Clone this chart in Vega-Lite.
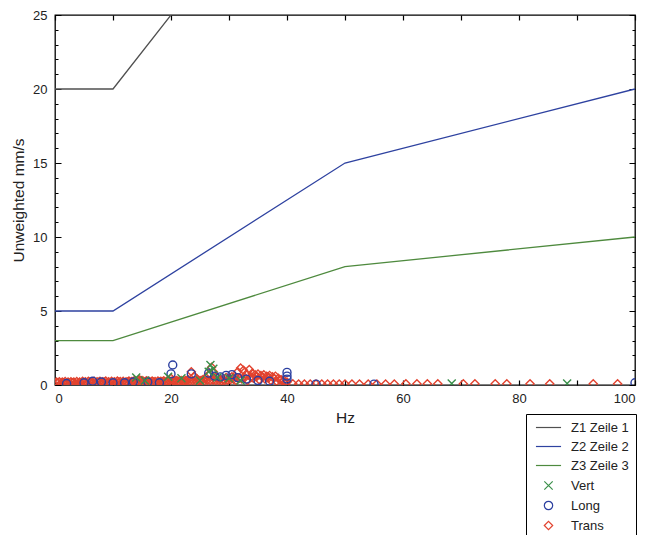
{
  "$schema": "https://vega.github.io/schema/vega-lite/v6.json",
  "autosize": {"type": "none"},
  "width": 580,
  "height": 370,
  "padding": {"left": 55, "top": 15, "right": 22, "bottom": 150},
  "background": "white",
  "config": {
    "view": {"stroke": "black", "strokeWidth": 1.3},
    "font": "Liberation Sans",
    "axis": {"zindex": 1, "ticks": false, "domain": false, "grid": true, "gridColor": "black", "gridOpacity": 1, "gridWidth": 1.2, "labelColor": "#222", "titleColor": "#222", "labelFont": "Liberation Sans", "titleFont": "Liberation Sans", "labelFontSize": 13, "titleFontSize": 15.5, "titleFontWeight": "normal", "labelOverlap": false}
  },
  "datasets": {
    "lines": [
      {"f": 0, "v": 20, "s": "Z1 Zeile 1"}, {"f": 10, "v": 20, "s": "Z1 Zeile 1"}, {"f": 50, "v": 40, "s": "Z1 Zeile 1"}, {"f": 100, "v": 50, "s": "Z1 Zeile 1"},
      {"f": 0, "v": 5, "s": "Z2 Zeile 2"}, {"f": 10, "v": 5, "s": "Z2 Zeile 2"}, {"f": 50, "v": 15, "s": "Z2 Zeile 2"}, {"f": 100, "v": 20, "s": "Z2 Zeile 2"},
      {"f": 0, "v": 3, "s": "Z3 Zeile 3"}, {"f": 10, "v": 3, "s": "Z3 Zeile 3"}, {"f": 50, "v": 8, "s": "Z3 Zeile 3"}, {"f": 100, "v": 10, "s": "Z3 Zeile 3"}
    ],
    "pts": [
      {"f": 0.5, "v": 0.15, "s": "Trans"}, {"f": 1, "v": 0.1, "s": "Trans"}, {"f": 1.5, "v": 0.15, "s": "Trans"}, {"f": 2, "v": 0.12, "s": "Trans"}, {"f": 2.5, "v": 0.1, "s": "Trans"}, {"f": 3, "v": 0.15, "s": "Trans"}, {"f": 3.5, "v": 0.12, "s": "Trans"}, {"f": 4, "v": 0.1, "s": "Trans"}, {"f": 4.5, "v": 0.14, "s": "Trans"}, {"f": 5, "v": 0.18, "s": "Trans"}, {"f": 5.5, "v": 0.12, "s": "Trans"}, {"f": 6, "v": 0.2, "s": "Trans"}, {"f": 6.5, "v": 0.15, "s": "Trans"}, {"f": 7, "v": 0.12, "s": "Trans"}, {"f": 7.5, "v": 0.18, "s": "Trans"}, {"f": 8, "v": 0.14, "s": "Trans"}, {"f": 8.5, "v": 0.2, "s": "Trans"}, {"f": 9, "v": 0.15, "s": "Trans"}, {"f": 9.5, "v": 0.12, "s": "Trans"}, {"f": 10, "v": 0.18, "s": "Trans"}, {"f": 10.5, "v": 0.15, "s": "Trans"}, {"f": 11, "v": 0.2, "s": "Trans"}, {"f": 11.5, "v": 0.15, "s": "Trans"}, {"f": 12, "v": 0.12, "s": "Trans"}, {"f": 12.5, "v": 0.2, "s": "Trans"}, {"f": 13, "v": 0.18, "s": "Trans"}, {"f": 13.5, "v": 0.25, "s": "Trans"}, {"f": 14, "v": 0.2, "s": "Trans"}, {"f": 14.5, "v": 0.35, "s": "Trans"}, {"f": 15, "v": 0.3, "s": "Trans"}, {"f": 15.5, "v": 0.2, "s": "Trans"}, {"f": 16, "v": 0.25, "s": "Trans"}, {"f": 16.5, "v": 0.18, "s": "Trans"}, {"f": 17, "v": 0.2, "s": "Trans"}, {"f": 17.5, "v": 0.15, "s": "Trans"}, {"f": 18, "v": 0.2, "s": "Trans"}, {"f": 18.5, "v": 0.22, "s": "Trans"}, {"f": 19, "v": 0.18, "s": "Trans"}, {"f": 19.5, "v": 0.3, "s": "Trans"}, {"f": 20, "v": 0.45, "s": "Trans"}, {"f": 20.5, "v": 0.25, "s": "Trans"}, {"f": 21, "v": 0.3, "s": "Trans"}, {"f": 21.5, "v": 0.2, "s": "Trans"}, {"f": 22, "v": 0.25, "s": "Trans"}, {"f": 22.5, "v": 0.3, "s": "Trans"}, {"f": 23, "v": 0.35, "s": "Trans"}, {"f": 23.5, "v": 0.9, "s": "Trans"}, {"f": 24, "v": 0.6, "s": "Trans"}, {"f": 24.5, "v": 0.4, "s": "Trans"}, {"f": 25, "v": 0.3, "s": "Trans"}, {"f": 25.5, "v": 0.35, "s": "Trans"}, {"f": 26, "v": 0.5, "s": "Trans"}, {"f": 26.5, "v": 0.7, "s": "Trans"}, {"f": 27, "v": 1.2, "s": "Trans"}, {"f": 27.3, "v": 0.9, "s": "Trans"}, {"f": 27.6, "v": 0.6, "s": "Trans"}, {"f": 28, "v": 0.5, "s": "Trans"}, {"f": 28.5, "v": 0.4, "s": "Trans"}, {"f": 29, "v": 0.35, "s": "Trans"}, {"f": 29.5, "v": 0.5, "s": "Trans"}, {"f": 30, "v": 0.45, "s": "Trans"}, {"f": 30.5, "v": 0.55, "s": "Trans"}, {"f": 31, "v": 0.6, "s": "Trans"}, {"f": 31.5, "v": 0.9, "s": "Trans"}, {"f": 32, "v": 1.15, "s": "Trans"}, {"f": 32.5, "v": 1.0, "s": "Trans"}, {"f": 33, "v": 0.75, "s": "Trans"}, {"f": 33.5, "v": 1.05, "s": "Trans"}, {"f": 34, "v": 0.8, "s": "Trans"}, {"f": 34.5, "v": 0.7, "s": "Trans"}, {"f": 35, "v": 0.75, "s": "Trans"}, {"f": 35.5, "v": 0.65, "s": "Trans"}, {"f": 36, "v": 0.7, "s": "Trans"}, {"f": 36.5, "v": 0.6, "s": "Trans"}, {"f": 37, "v": 0.65, "s": "Trans"}, {"f": 37.5, "v": 0.55, "s": "Trans"}, {"f": 38, "v": 0.6, "s": "Trans"}, {"f": 38.5, "v": 0.45, "s": "Trans"}, {"f": 39, "v": 0.35, "s": "Trans"}, {"f": 39.5, "v": 0.3, "s": "Trans"}, {"f": 40, "v": 0.2, "s": "Trans"},
      {"f": 0.25, "v": 0.2, "s": "Trans"}, {"f": 0.75, "v": 0.22, "s": "Trans"}, {"f": 1.25, "v": 0.2, "s": "Trans"}, {"f": 1.75, "v": 0.24, "s": "Trans"}, {"f": 2.25, "v": 0.2, "s": "Trans"}, {"f": 2.75, "v": 0.22, "s": "Trans"}, {"f": 3.25, "v": 0.2, "s": "Trans"}, {"f": 3.75, "v": 0.24, "s": "Trans"}, {"f": 4.25, "v": 0.2, "s": "Trans"}, {"f": 4.75, "v": 0.25, "s": "Trans"}, {"f": 5.25, "v": 0.22, "s": "Trans"}, {"f": 5.75, "v": 0.26, "s": "Trans"}, {"f": 6.25, "v": 0.22, "s": "Trans"}, {"f": 6.75, "v": 0.25, "s": "Trans"}, {"f": 7.25, "v": 0.22, "s": "Trans"}, {"f": 7.75, "v": 0.26, "s": "Trans"}, {"f": 8.25, "v": 0.22, "s": "Trans"}, {"f": 8.75, "v": 0.27, "s": "Trans"}, {"f": 9.25, "v": 0.22, "s": "Trans"}, {"f": 9.75, "v": 0.25, "s": "Trans"}, {"f": 10.25, "v": 0.22, "s": "Trans"}, {"f": 10.75, "v": 0.27, "s": "Trans"}, {"f": 11.25, "v": 0.24, "s": "Trans"}, {"f": 11.75, "v": 0.26, "s": "Trans"}, {"f": 12.25, "v": 0.22, "s": "Trans"}, {"f": 12.75, "v": 0.27, "s": "Trans"}, {"f": 13.25, "v": 0.24, "s": "Trans"}, {"f": 13.75, "v": 0.3, "s": "Trans"}, {"f": 14.25, "v": 0.26, "s": "Trans"}, {"f": 14.75, "v": 0.3, "s": "Trans"}, {"f": 15.25, "v": 0.26, "s": "Trans"}, {"f": 15.75, "v": 0.28, "s": "Trans"}, {"f": 16.25, "v": 0.24, "s": "Trans"}, {"f": 16.75, "v": 0.27, "s": "Trans"}, {"f": 17.25, "v": 0.24, "s": "Trans"}, {"f": 17.75, "v": 0.27, "s": "Trans"}, {"f": 18.25, "v": 0.25, "s": "Trans"}, {"f": 18.75, "v": 0.28, "s": "Trans"}, {"f": 19.25, "v": 0.25, "s": "Trans"}, {"f": 19.75, "v": 0.28, "s": "Trans"}, {"f": 20.25, "v": 0.3, "s": "Trans"}, {"f": 20.75, "v": 0.28, "s": "Trans"}, {"f": 21.25, "v": 0.26, "s": "Trans"}, {"f": 21.75, "v": 0.3, "s": "Trans"}, {"f": 22.25, "v": 0.27, "s": "Trans"}, {"f": 22.75, "v": 0.3, "s": "Trans"}, {"f": 23.25, "v": 0.28, "s": "Trans"}, {"f": 23.75, "v": 0.3, "s": "Trans"}, {"f": 24.25, "v": 0.3, "s": "Trans"}, {"f": 24.75, "v": 0.28, "s": "Trans"}, {"f": 25.25, "v": 0.3, "s": "Trans"}, {"f": 25.75, "v": 0.28, "s": "Trans"}, {"f": 26.25, "v": 0.32, "s": "Trans"}, {"f": 26.75, "v": 0.3, "s": "Trans"}, {"f": 27.25, "v": 0.32, "s": "Trans"}, {"f": 27.75, "v": 0.3, "s": "Trans"}, {"f": 28.25, "v": 0.3, "s": "Trans"}, {"f": 28.75, "v": 0.28, "s": "Trans"}, {"f": 29.25, "v": 0.3, "s": "Trans"}, {"f": 29.75, "v": 0.32, "s": "Trans"}, {"f": 30.25, "v": 0.35, "s": "Trans"}, {"f": 30.75, "v": 0.38, "s": "Trans"}, {"f": 31.75, "v": 0.45, "s": "Trans"}, {"f": 32.75, "v": 0.5, "s": "Trans"}, {"f": 33.75, "v": 0.55, "s": "Trans"}, {"f": 34.75, "v": 0.55, "s": "Trans"}, {"f": 35.75, "v": 0.55, "s": "Trans"}, {"f": 36.75, "v": 0.55, "s": "Trans"}, {"f": 37.75, "v": 0.45, "s": "Trans"}, {"f": 38.75, "v": 0.35, "s": "Trans"}, {"f": 39.25, "v": 0.25, "s": "Trans"}, {"f": 39.75, "v": 0.2, "s": "Trans"},
      {"f": 31.2, "v": 0.3, "s": "Trans"}, {"f": 32.2, "v": 0.4, "s": "Trans"}, {"f": 33.2, "v": 0.3, "s": "Trans"}, {"f": 34.2, "v": 0.45, "s": "Trans"}, {"f": 35.2, "v": 0.35, "s": "Trans"}, {"f": 36.2, "v": 0.4, "s": "Trans"}, {"f": 37.2, "v": 0.3, "s": "Trans"}, {"f": 38.2, "v": 0.25, "s": "Trans"}, {"f": 33.8, "v": 0.5, "s": "Trans"}, {"f": 35.8, "v": 0.5, "s": "Trans"}, {"f": 36.8, "v": 0.45, "s": "Trans"},
      {"f": 41, "v": 0.08, "s": "Trans"}, {"f": 42, "v": 0.06, "s": "Trans"}, {"f": 43, "v": 0.06, "s": "Trans"}, {"f": 44, "v": 0.06, "s": "Trans"}, {"f": 45, "v": 0.06, "s": "Trans"}, {"f": 46, "v": 0.06, "s": "Trans"}, {"f": 47, "v": 0.06, "s": "Trans"}, {"f": 48, "v": 0.06, "s": "Trans"}, {"f": 49, "v": 0.06, "s": "Trans"}, {"f": 50, "v": 0.06, "s": "Trans"}, {"f": 51.2, "v": 0.06, "s": "Trans"}, {"f": 52.5, "v": 0.06, "s": "Trans"}, {"f": 54, "v": 0.06, "s": "Trans"}, {"f": 55.5, "v": 0.06, "s": "Trans"}, {"f": 57, "v": 0.06, "s": "Trans"}, {"f": 58.5, "v": 0.06, "s": "Trans"}, {"f": 60.5, "v": 0.08, "s": "Trans"}, {"f": 62.4, "v": 0.08, "s": "Trans"}, {"f": 64.2, "v": 0.08, "s": "Trans"}, {"f": 66, "v": 0.08, "s": "Trans"}, {"f": 70.4, "v": 0.08, "s": "Trans"}, {"f": 72.4, "v": 0.08, "s": "Trans"}, {"f": 75.9, "v": 0.08, "s": "Trans"}, {"f": 77.9, "v": 0.08, "s": "Trans"}, {"f": 81.9, "v": 0.08, "s": "Trans"}, {"f": 85.3, "v": 0.08, "s": "Trans"}, {"f": 92.8, "v": 0.08, "s": "Trans"}, {"f": 97, "v": 0.08, "s": "Trans"},
      {"f": 2, "v": 0.1, "s": "Long"}, {"f": 5, "v": 0.15, "s": "Long"}, {"f": 6.5, "v": 0.25, "s": "Long"}, {"f": 8, "v": 0.2, "s": "Long"}, {"f": 10, "v": 0.15, "s": "Long"}, {"f": 12, "v": 0.15, "s": "Long"}, {"f": 13.5, "v": 0.2, "s": "Long"}, {"f": 16, "v": 0.2, "s": "Long"}, {"f": 18, "v": 0.15, "s": "Long"}, {"f": 20.3, "v": 1.35, "s": "Long"}, {"f": 20, "v": 0.75, "s": "Long"}, {"f": 23.5, "v": 0.75, "s": "Long"}, {"f": 26.5, "v": 0.8, "s": "Long"}, {"f": 27.5, "v": 0.6, "s": "Long"}, {"f": 28.5, "v": 0.55, "s": "Long"}, {"f": 29.5, "v": 0.65, "s": "Long"}, {"f": 30.5, "v": 0.7, "s": "Long"}, {"f": 31.5, "v": 0.5, "s": "Long"}, {"f": 33, "v": 0.4, "s": "Long"}, {"f": 35, "v": 0.3, "s": "Long"}, {"f": 37, "v": 0.25, "s": "Long"}, {"f": 40, "v": 0.85, "s": "Long"}, {"f": 40, "v": 0.6, "s": "Long"}, {"f": 40, "v": 0.4, "s": "Long"}, {"f": 45, "v": 0.06, "s": "Long"}, {"f": 55, "v": 0.06, "s": "Long"}, {"f": 100, "v": 0.15, "s": "Long"},
      {"f": 14, "v": 0.5, "s": "Vert"}, {"f": 15.5, "v": 0.3, "s": "Vert"}, {"f": 19.5, "v": 0.55, "s": "Vert"}, {"f": 21.8, "v": 0.45, "s": "Vert"}, {"f": 26.8, "v": 1.35, "s": "Vert"}, {"f": 27.3, "v": 1.1, "s": "Vert"}, {"f": 26.5, "v": 0.9, "s": "Vert"}, {"f": 28, "v": 0.5, "s": "Vert"}, {"f": 30, "v": 0.45, "s": "Vert"}, {"f": 25, "v": 0.3, "s": "Vert"}, {"f": 32, "v": 0.3, "s": "Vert"}, {"f": 68.4, "v": 0.1, "s": "Vert"}, {"f": 88.3, "v": 0.1, "s": "Vert"}
    ]
  },
  "layer": [
    {
      "data": {"name": "lines"},
      "mark": {"type": "line", "strokeWidth": 1.3, "clip": true},
      "encoding": {
        "x": {"field": "f", "type": "quantitative", "scale": {"domain": [0, 100], "nice": false}, "axis": {"title": "Hz", "tickCount": 10, "labelExpr": "datum.value % 20 == 0 ? datum.label : ''", "gridDash": [5, 360], "labelPadding": 7, "titlePadding": 5}},
        "y": {"field": "v", "type": "quantitative", "scale": {"domain": [0, 25], "nice": false}, "axis": {"title": "Unweighted mm/s", "tickCount": 25, "labelExpr": "datum.value % 5 == 0 ? datum.label : ''", "gridDash": {"condition": {"test": "datum.value % 5 == 0", "value": [6, 568]}, "value": [3, 574]}, "labelPadding": 8, "titlePadding": 6}},
        "color": {"field": "s", "type": "nominal", "scale": {"domain": ["Z1 Zeile 1", "Z2 Zeile 2", "Z3 Zeile 3", "Vert", "Long", "Trans"], "range": ["#505050", "#2e42a0", "#4e8a3e", "#3a8f4a", "#2b3fa0", "#e2432f"]}, "legend": {"title": null, "orient": "none", "legendX": 471, "legendY": 399, "strokeColor": "black", "fillColor": "white", "padding": 7, "symbolOffset": 9, "labelOffset": 16, "rowPadding": 5, "labelFontSize": 13, "labelFont": "Liberation Sans", "labelColor": "#222", "symbolSize": 70, "symbolStrokeWidth": 1.2}},
        "detail": {"field": "s"},
        "order": {"field": "f", "type": "quantitative"}
      }
    },
    {
      "data": {"name": "pts"},
      "mark": {"type": "point", "filled": false, "strokeWidth": 1.4, "size": 64, "opacity": 1, "clip": true},
      "encoding": {
        "x": {"field": "f", "type": "quantitative", "axis": {"title": "Hz", "tickCount": 10, "labelExpr": "datum.value % 20 == 0 ? datum.label : ''", "gridDash": [5, 360], "labelPadding": 7, "titlePadding": 5}},
        "y": {"field": "v", "type": "quantitative", "axis": {"title": "Unweighted mm/s", "tickCount": 25, "labelExpr": "datum.value % 5 == 0 ? datum.label : ''", "gridDash": {"condition": {"test": "datum.value % 5 == 0", "value": [6, 568]}, "value": [3, 574]}, "labelPadding": 8, "titlePadding": 6}},
        "color": {"field": "s", "type": "nominal"},
        "shape": {"field": "s", "type": "nominal", "scale": {"domain": ["Z1 Zeile 1", "Z2 Zeile 2", "Z3 Zeile 3", "Vert", "Long", "Trans"], "range": ["M-3,0H3", "M-3,0H3", "M-3,0H3", "M-1,-1L1,1M-1,1L1,-1", "circle", "diamond"]}}
      }
    }
  ]
}
